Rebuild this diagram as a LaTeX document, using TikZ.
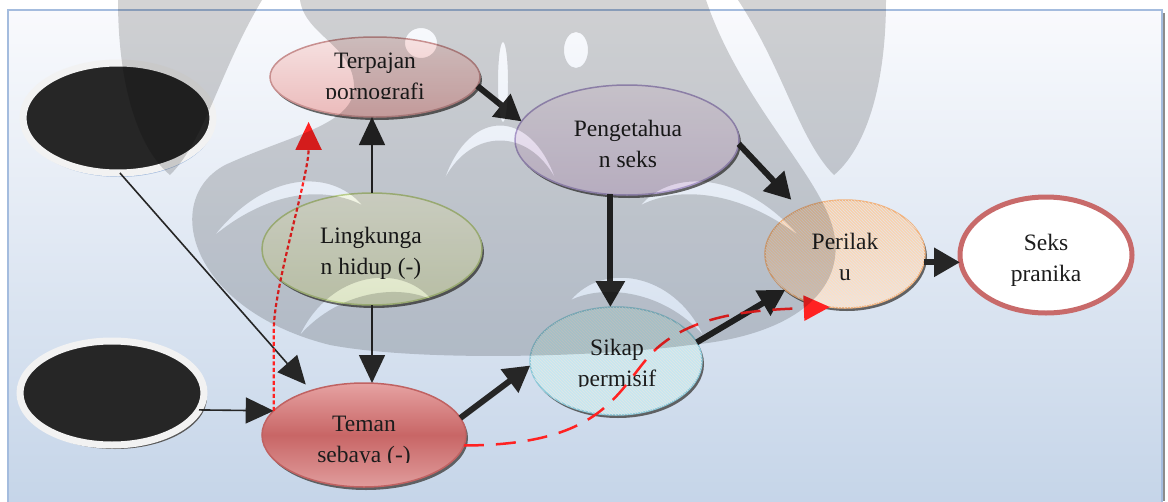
\documentclass[tikz,border=0pt]{standalone}
\usepackage{fontspec}
\setmainfont{Liberation Serif}
\usetikzlibrary{arrows.meta,shapes.geometric,shadows,patterns}

\definecolor{bgtop}{HTML}{F9FAFD}
\definecolor{bgbot}{HTML}{C4D4E8}
\definecolor{framec}{HTML}{A4BCDE}
\definecolor{txt}{HTML}{1C1C1C}
\definecolor{blk}{HTML}{262626}
\definecolor{ring}{HTML}{F2F2F2}
\definecolor{terpTop}{HTML}{F6E2E2}
\definecolor{terpBot}{HTML}{EBBABA}
\definecolor{terpLine}{HTML}{C89090}
\definecolor{pengTop}{HTML}{EEE8F2}
\definecolor{pengBot}{HTML}{DCD0E6}
\definecolor{pengLine}{HTML}{A898C8}
\definecolor{lingTop}{HTML}{F2F5E6}
\definecolor{lingBot}{HTML}{DDE5C6}
\definecolor{lingLine}{HTML}{B8CC88}
\definecolor{temTop}{HTML}{E6A2A2}
\definecolor{temMid}{HTML}{C86666}
\definecolor{temBot}{HTML}{E09C9C}
\definecolor{temLine}{HTML}{C06262}
\definecolor{sikFill}{HTML}{C6E8F0}
\definecolor{sikLine}{HTML}{8CC8D8}
\definecolor{periTop}{HTML}{F8CEA8}
\definecolor{periBot}{HTML}{FBE2CE}
\definecolor{periLine}{HTML}{F2B27C}
\definecolor{seksLine}{HTML}{C86A6A}
\definecolor{arrowc}{HTML}{262626}
\definecolor{redc}{HTML}{FF2222}

\begin{document}
\begin{tikzpicture}[x=1pt,y=-1pt,
  ell/.style={ellipse, inner sep=0pt, outer sep=0pt},
  nshadow/.style={drop shadow={shadow xshift=2pt, shadow yshift=-3pt, fill=black!70, opacity=0.85}},
  hatch/.style={postaction={pattern=north west lines, pattern color=black!10}},
  blackbox/.style={ell, fill=blk, draw=ring, line width=7pt},
  lbl/.style={text width=220pt, align=flush center, anchor=base, inner sep=0pt,
    font=\fontsize{23.5}{31}\selectfont, text=txt},
  thinarr/.style={draw=arrowc, line width=1.6pt, -{Triangle[length=28pt,width=26pt]}},
  thickarr/.style={draw=arrowc, line width=6pt, -{Triangle[length=26pt,width=28pt]}},
  reddot/.style={draw=redc, line width=2.2pt, dash pattern=on 4pt off 2.5pt,
    -{Triangle[length=28pt,width=26pt]}},
  reddash/.style={draw=redc, line width=2.5pt, dash pattern=on 20pt off 12pt,
    -{Triangle[length=26pt,width=25pt]}},
  emblem/.style={fill=black, opacity=0.17, even odd rule},
]
\useasboundingbox (0,0) rectangle (1168,501);
\fill[white] (0,0) rectangle (1168,501);

% framed background panel
\fill[black!45] (1162,13) rectangle (1165,501);
\shade[top color=bgtop, bottom color=bgbot] (8,10) rectangle (1162,515);
\draw[framec, line width=2.5pt] (8,10) rectangle (1162,515);

% ellipses
\node[blackbox, minimum width=190pt, minimum height=110pt,
  drop shadow={shadow xshift=1pt, shadow yshift=-4pt, fill=framec, opacity=1}]
  (blk1) at (118,118) {};
\node[blackbox, minimum width=184pt, minimum height=104pt,
  drop shadow={shadow xshift=3pt, shadow yshift=-4pt, fill=black!65, opacity=1}]
  (blk2) at (112,393) {};

\node[ell, nshadow, minimum width=210pt, minimum height=80pt,
  top color=terpTop, bottom color=terpBot, draw=terpLine, line width=1.5pt]
  (terp) at (375,77) {};
\node[ell, nshadow, minimum width=224pt, minimum height=110pt,
  top color=pengTop, bottom color=pengBot, draw=pengLine, line width=1.5pt]
  (peng) at (627,140) {};
\node[ell, nshadow, minimum width=220pt, minimum height=112pt,
  top color=lingTop, bottom color=lingBot, draw=lingLine, line width=1.5pt]
  (ling) at (372,249) {};
\node[ell, nshadow, minimum width=204pt, minimum height=104pt,
  top color=temTop, bottom color=temBot, middle color=temMid, draw=temLine, line width=1.5pt]
  (teman) at (364,435) {};
\node[ell, nshadow, minimum width=172pt, minimum height=108pt,
  fill=sikFill, draw=sikLine, line width=1.5pt, hatch]
  (sikap) at (616,361) {};
\node[ell, nshadow, minimum width=160pt, minimum height=108pt,
  top color=periTop, bottom color=periBot, draw=periLine, line width=1.5pt, hatch]
  (peri) at (845,254) {};
\node[ell, minimum width=172pt, minimum height=116pt,
  fill=white, draw=seksLine, line width=5pt]
  (seks) at (1046,255) {};

% labels (some are cut at the bottom of their text box)
\begin{scope}
  \clip (265,30) rectangle (485,98.6);
  \node[lbl] (terpL) at (375,68) {Terpajan\\pornografi};
\end{scope}
\node[lbl] (pengL) at (628,136) {Pengetahua\\n seks};
\node[lbl] (lingL) at (371,243) {Lingkunga\\n hidup (-)};
\begin{scope}
  \clip (262,400) rectangle (466,462.5);
  \node[lbl] (temanL) at (364,431) {Teman\\sebaya (-)};
\end{scope}
\begin{scope}
  \clip (530,320) rectangle (702,386.8);
  \node[lbl] (sikapL) at (617,355) {Sikap\\permisif};
\end{scope}
\node[lbl] (periL) at (845,249) {Perilak\\u};
\node[lbl] (seksL) at (1046,250) {Seks\\pranika};

% connectors
\draw[thinarr] (ling.north) -- (ling.north |- terp.south);
\draw[thinarr] (ling.south) -- (ling.south |- teman.north);
\draw[thinarr, shorten >=8pt] (blk1.-88) -- (teman.140);
\draw[thinarr] (blk2.-11) -- (teman.165);

\draw[thickarr] (terp.-5) -- (peng.170);
\draw[thickarr] (peng.-107) -- (peng.-107 |- sikap.north);
\draw[thickarr, shorten >=13pt] (peng.-2) -- (peri.135);
\draw[thickarr] (teman.10) -- (sikap.183);
\draw[thickarr] (sikap.13) -- (peri.211);
\draw[thickarr] (peri.-6) -- (peri.-6 -| seks.west);

\draw[reddot] (teman.165) -- ++(0,-80)
  .. controls +(0,-45) and +(0,55) .. ([yshift=-14pt]terp.205);
\draw[reddash] (teman.-6) .. controls (600,445) and (615,395) .. (650,355)
  .. controls (690,312) and (760,310) .. (peri.254);

% faint university emblem laid over the whole panel
\fill[emblem] (118,0) .. controls (118,90) and (140,150) .. (170,175)
  .. controls (205,140) and (220,70) .. (262,0) -- cycle;
\fill[emblem] (886,0) .. controls (886,90) and (864,150) .. (834,175)
  .. controls (799,140) and (784,70) .. (738,0) -- cycle;
\fill[emblem]
  (300,0) .. controls (305,35) and (352,45) .. (354,85)
    .. controls (356,125) and (290,135) .. (225,165)
    .. controls (160,200) and (190,310) .. (330,345)
    .. controls (420,362) and (600,357) .. (690,345)
    .. controls (800,335) and (850,285) .. (832,225)
    .. controls (815,170) and (740,100) .. (706,0) -- cycle
  (421,43) ellipse [x radius=16, y radius=15]
  (576,50) ellipse [x radius=12, y radius=18]
  (503,82) ellipse [x radius=5, y radius=40]
  (445,178) .. controls (470,108) and (530,108) .. (555,178)
    .. controls (528,128) and (472,128) .. (445,178) -- cycle
  (215,235) .. controls (265,172) and (330,168) .. (362,205)
    .. controls (325,186) and (270,190) .. (215,235) -- cycle
  (798,235) .. controls (743,172) and (673,168) .. (641,205)
    .. controls (678,186) and (738,190) .. (798,235) -- cycle
  (300,335) .. controls (330,272) and (400,262) .. (432,300)
    .. controls (400,284) and (340,290) .. (300,335) -- cycle
  (703,335) .. controls (673,272) and (603,262) .. (571,300)
    .. controls (603,284) and (663,290) .. (703,335) -- cycle;
\end{tikzpicture}
\end{document}
